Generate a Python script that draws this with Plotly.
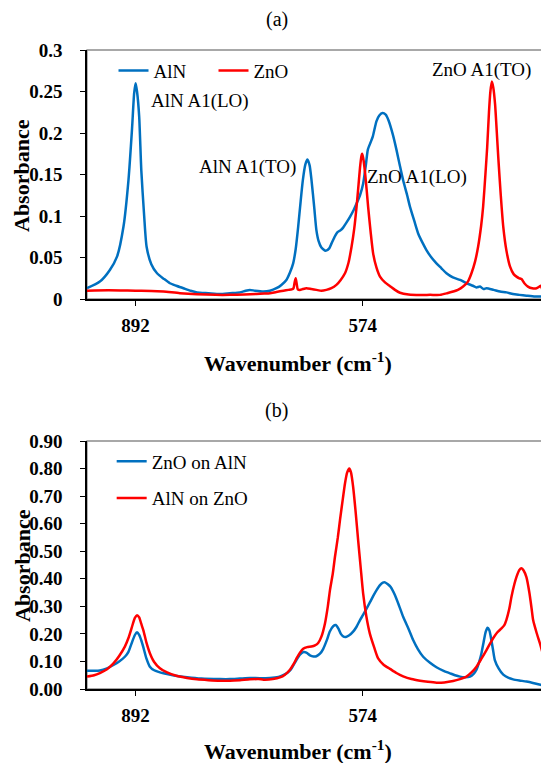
import plotly.graph_objects as go

# ---------------- data ----------------
# Panel (a): AlN film
aln_wn = [960, 942, 928, 918, 909, 902, 897, 894, 892, 890, 887, 884, 880, 876.6, 870, 862, 852, 844,
          835, 825, 815, 806, 790, 774, 760, 746, 738, 732, 725, 713, 704, 695, 688, 681, 676, 671.5,
          668, 664.5, 661, 658, 654.5, 651.5, 648.5, 645.8, 642, 639, 636, 632, 626, 621, 617.8, 614,
          610, 605, 601.6, 597, 592, 587, 582.8, 578, 573.6, 570, 567, 563, 560, 555, 551, 546.5, 542,
          538, 532, 527, 522, 517.6, 512, 508, 502, 496.6, 490, 485, 478, 471, 464, 457, 448, 438, 429,
          420, 415, 410, 405, 401, 391, 382, 373, 364, 355, 345, 333, 321]
aln_abs = [0.013, 0.021, 0.035, 0.051, 0.087, 0.143, 0.205, 0.248, 0.260, 0.250, 0.220, 0.155, 0.100,
           0.063, 0.042, 0.031, 0.024, 0.019, 0.016, 0.013, 0.010, 0.008, 0.007, 0.006, 0.007, 0.008,
           0.010, 0.011, 0.010, 0.009, 0.010, 0.013, 0.017, 0.023, 0.032, 0.043, 0.060, 0.087, 0.118,
           0.143, 0.162, 0.168, 0.161, 0.143, 0.110, 0.083, 0.070, 0.062, 0.058, 0.061, 0.067, 0.074,
           0.080, 0.083, 0.086, 0.092, 0.099, 0.107, 0.115, 0.125, 0.139, 0.160, 0.180, 0.189, 0.196,
           0.214, 0.221, 0.224, 0.222, 0.215, 0.198, 0.180, 0.160, 0.143, 0.125, 0.111, 0.094, 0.079,
           0.067, 0.059, 0.050, 0.043, 0.037, 0.031, 0.026, 0.023, 0.019, 0.016, 0.014, 0.015, 0.012,
           0.013, 0.011, 0.009, 0.008, 0.006, 0.005, 0.004, 0.003, 0.003]

# Panel (a): ZnO film
zno_wn = [960, 930, 892, 870, 853, 830, 806, 780, 760, 740, 723, 712, 704, 695, 685, 678, 673.5, 671,
          669.5, 668, 666.5, 665, 662, 658, 653, 646, 639, 632, 625, 618, 611, 605, 599, 594, 589.8,
          586, 582.8, 580, 578, 576, 575, 573.5, 571, 568.5, 566.6, 563, 559.6, 555, 550, 543, 536,
          529, 522, 510, 494, 480, 466, 456, 447.7, 441, 433.7, 427, 422, 417, 412.7, 408.5, 405.7,
          402.5, 400, 397.5, 395.5, 393.5, 391.5, 389, 386.5, 384.5, 381, 377.5, 373, 368, 363, 359,
          355, 352, 348, 343, 337, 331, 327, 325, 323, 320.5]
zno_abs = [0.010, 0.0105, 0.010, 0.0098, 0.009, 0.007, 0.0057, 0.005, 0.005, 0.0055, 0.006, 0.0065,
           0.007, 0.0085, 0.010, 0.011, 0.0116, 0.013, 0.020, 0.025, 0.018, 0.0116, 0.011, 0.012,
           0.013, 0.012, 0.011, 0.010, 0.011, 0.013, 0.017, 0.023, 0.031, 0.044, 0.063, 0.085, 0.111,
           0.138, 0.158, 0.172, 0.175, 0.170, 0.153, 0.130, 0.111, 0.080, 0.055, 0.038, 0.027, 0.020,
           0.0155, 0.011, 0.0076, 0.0055, 0.0048, 0.005, 0.005, 0.007, 0.009, 0.011, 0.015, 0.021,
           0.031, 0.045, 0.063, 0.088, 0.111, 0.150, 0.183, 0.225, 0.250, 0.262, 0.255, 0.235, 0.200,
           0.171, 0.125, 0.087, 0.058, 0.039, 0.030, 0.027, 0.025, 0.024, 0.019, 0.015, 0.013, 0.013,
           0.015, 0.016, 0.012, 0.009]

# Panel (b): ZnO on AlN
zoa_wn = [960, 950, 942, 932, 923, 915, 907, 902, 897.5, 893, 890, 887, 884, 881, 877, 872, 866, 860,
          853, 840, 820, 800, 774, 760, 746, 732, 718, 704, 692, 685.5, 679, 675, 671.5, 667, 662,
          657, 653, 648, 643, 639, 634, 629.6, 624, 620.4, 615.5, 611.8, 608, 604.8, 601, 597.8, 593,
          587.6, 583, 578, 573.5, 568.8, 564, 559.6, 555, 550, 546, 543, 539, 535, 529, 523, 517.6,
          510, 503.6, 497, 489.6, 480, 471, 461, 452, 445, 438, 431, 424, 419, 415, 411, 408, 405, 402,
          399.5, 397, 395, 392, 389.3, 384, 377.5, 370, 363.7, 355, 345, 336, 327, 323, 320.5]
zoa_abs = [0.066, 0.066, 0.067, 0.075, 0.087, 0.100, 0.117, 0.135, 0.166, 0.196, 0.206, 0.196, 0.176,
           0.150, 0.112, 0.081, 0.068, 0.062, 0.057, 0.050, 0.043, 0.038, 0.036, 0.036, 0.038, 0.040,
           0.039, 0.040, 0.044, 0.050, 0.060, 0.070, 0.085, 0.105, 0.125, 0.134, 0.132, 0.122, 0.118,
           0.119, 0.128, 0.145, 0.180, 0.208, 0.228, 0.232, 0.218, 0.200, 0.190, 0.189, 0.195, 0.208,
           0.225, 0.250, 0.270, 0.292, 0.315, 0.337, 0.358, 0.377, 0.386, 0.387, 0.380, 0.370, 0.340,
           0.300, 0.262, 0.218, 0.178, 0.145, 0.117, 0.095, 0.079, 0.066, 0.057, 0.050, 0.045, 0.043,
           0.045, 0.055, 0.070, 0.100, 0.130, 0.170, 0.208, 0.222, 0.213, 0.190, 0.145, 0.105, 0.075,
           0.052, 0.040, 0.035, 0.031, 0.027, 0.022, 0.016, 0.014, 0.010]

# Panel (b): AlN on ZnO
anz_wn = [960, 950, 942, 932, 923, 915, 907, 902, 897.5, 893, 890, 887, 884, 881, 877, 872, 866, 858,
          848, 835, 820, 806, 790, 774, 760, 746, 732, 720, 713, 700, 690, 683, 676, 671, 666.8, 662,
          657.5, 652, 646, 641, 636.5, 632, 627, 623, 620, 616, 613, 609, 606, 602, 599, 596, 593,
          590.5, 587.6, 584, 580.6, 577, 573.6, 569, 564.3, 558, 552.6, 545, 536, 527, 517.6, 506, 494,
          483, 471, 460, 447.7, 438, 429, 422, 415, 408, 401, 396, 391.7, 386, 380, 376, 373, 369, 366,
          362, 359, 355, 352, 349, 345, 341, 338, 335.7, 331, 326.3, 323, 320.5]
anz_abs = [0.045, 0.050, 0.058, 0.072, 0.093, 0.120, 0.154, 0.185, 0.222, 0.258, 0.268, 0.260, 0.236,
           0.212, 0.170, 0.130, 0.098, 0.075, 0.060, 0.048, 0.040, 0.035, 0.032, 0.030, 0.030, 0.032,
           0.035, 0.036, 0.034, 0.036, 0.042, 0.052, 0.070, 0.090, 0.111, 0.132, 0.146, 0.152, 0.154,
           0.158, 0.167, 0.190, 0.238, 0.300, 0.359, 0.420, 0.480, 0.550, 0.613, 0.690, 0.746, 0.785,
           0.800, 0.785, 0.734, 0.640, 0.540, 0.440, 0.347, 0.262, 0.202, 0.150, 0.111, 0.088, 0.073,
           0.058, 0.046, 0.036, 0.030, 0.026, 0.023, 0.024, 0.029, 0.036, 0.045, 0.060, 0.081, 0.110,
           0.141, 0.165, 0.184, 0.205, 0.220, 0.232, 0.252, 0.292, 0.335, 0.380, 0.407, 0.432, 0.438,
           0.430, 0.405, 0.350, 0.295, 0.250, 0.205, 0.166, 0.135, 0.108]

x_tickvals = [892, 574]
x_range = [960, 320.5]
ya_range = [0, 0.3]
yb_range = [0, 0.9]

BLUE = "#0070C0"
RED = "#FF0000"
SERIF = "Liberation Serif, Times New Roman, serif"

# ---------------- figure ----------------
fig = go.Figure()

line_kw = dict(shape="spline", smoothing=0.6, width=2.5)

fig.add_trace(go.Scatter(x=aln_wn, y=aln_abs, name="AlN", mode="lines",
                         line=dict(color=BLUE, **line_kw), xaxis="x", yaxis="y", legend="legend"))
fig.add_trace(go.Scatter(x=zno_wn, y=zno_abs, name="ZnO", mode="lines",
                         line=dict(color=RED, **line_kw), xaxis="x", yaxis="y", legend="legend"))
fig.add_trace(go.Scatter(x=zoa_wn, y=zoa_abs, name="ZnO on AlN", mode="lines", legendgroup="g1",
                         line=dict(color=BLUE, **line_kw), xaxis="x2", yaxis="y2", legend="legend2"))
fig.add_trace(go.Scatter(x=anz_wn, y=anz_abs, name="AlN on ZnO", mode="lines", legendgroup="g2",
                         line=dict(color=RED, **line_kw), xaxis="x2", yaxis="y2", legend="legend2"))

tickfont = dict(family=SERIF, size=19, color="black", weight="bold")

xcommon = dict(range=x_range, tickmode="array", tickvals=x_tickvals, ticks="outside", ticklen=5,
               tickwidth=1, tickcolor="black", showline=True, linecolor="black", linewidth=2,
               showgrid=False, zeroline=False, tickfont=tickfont, ticklabelstandoff=3)
ycommon = dict(ticks="outside", ticklen=5, tickwidth=1, tickcolor="black", showline=True,
               linecolor="black", linewidth=1.5, showgrid=False, zeroline=False, tickfont=tickfont,
               ticklabelstandoff=14)

top_dom = [0.6103, 1.0]
bot_dom = [0.0, 0.3881]

fig.update_layout(
    width=549, height=763,
    margin=dict(l=79, r=13, t=42, b=82, autoexpand=False),
    paper_bgcolor="white", plot_bgcolor="white",
    showlegend=True,
    xaxis=dict(anchor="y", domain=[0, 1], **xcommon),
    yaxis=dict(anchor="x", domain=top_dom, range=ya_range, dtick=0.05, **ycommon),
    xaxis2=dict(anchor="y2", domain=[0, 1], **xcommon),
    yaxis2=dict(anchor="x2", domain=bot_dom, range=yb_range, dtick=0.1, tickformat=".2f", **ycommon),
    # inner halves of the crossing tick marks
    xaxis3=dict(overlaying="x", anchor="y", range=x_range, tickmode="array", tickvals=x_tickvals,
                ticks="inside", ticklen=4, tickcolor="black", showticklabels=False, showline=False,
                showgrid=False, zeroline=False),
    xaxis4=dict(overlaying="x2", anchor="y2", range=x_range, tickmode="array", tickvals=x_tickvals,
                ticks="inside", ticklen=4, tickcolor="black", showticklabels=False, showline=False,
                showgrid=False, zeroline=False),
    legend=dict(orientation="h", x=0.058, y=0.9676, xanchor="left", yanchor="middle",
                entrywidth=55, entrywidthmode="pixels", bgcolor="rgba(0,0,0,0)",
                font=dict(family=SERIF, size=19, color="black")),
    legend2=dict(orientation="v", x=0.054, y=0.386, xanchor="left", yanchor="top",
                 traceorder="grouped", tracegroupgap=9, bgcolor="rgba(0,0,0,0)",
                 font=dict(family=SERIF, size=19, color="black")),
)

# gray frame (top and right edges of each plot box)
for xr, yr in (("x domain", "y domain"), ("x2 domain", "y2 domain")):
    fig.add_shape(type="rect", xref=xr, yref=yr, x0=0, x1=1, y0=0, y1=1,
                  line=dict(color="#8c8c8c", width=1.3), layer="below")

ann_font = dict(family=SERIF, size=19, color="black")
peak_labels = [("AlN A1(LO)", 802, 0.2386), ("AlN A1(TO)", 735, 0.159),
               ("ZnO A1(LO)", 498.5, 0.147), ("ZnO A1(TO)", 407.5, 0.276)]
for txt, xx, yy in peak_labels:
    fig.add_annotation(text=txt, x=xx, y=yy, xref="x", yref="y", showarrow=False,
                       xanchor="center", yanchor="middle", font=ann_font)

title_font = dict(family=SERIF, size=22, color="black", weight="bold")
common_ann = dict(xref="paper", yref="paper", showarrow=False, xanchor="center", yanchor="middle")
# panel letters
fig.add_annotation(text="(a)", x=(276.5 - 87) / 457, y=(689 - 20) / 639,
                   font=dict(family=SERIF, size=20, color="black"), **common_ann)
fig.add_annotation(text="(b)", x=(276.5 - 87) / 457, y=(689 - 410) / 639,
                   font=dict(family=SERIF, size=20, color="black"), **common_ann)
# axis titles
for ycen in (362, 750):
    fig.add_annotation(text="Wavenumber (cm<sup>-1</sup>)", x=(298 - 87) / 457, y=(689 - ycen) / 639,
                       font=title_font, **common_ann)
for ycen in (176, 566):
    fig.add_annotation(text="Absorbance", x=(22 - 87) / 457, y=(689 - ycen) / 639, textangle=-90,
                       font=title_font, **common_ann)

fig.write_html("out.html")
